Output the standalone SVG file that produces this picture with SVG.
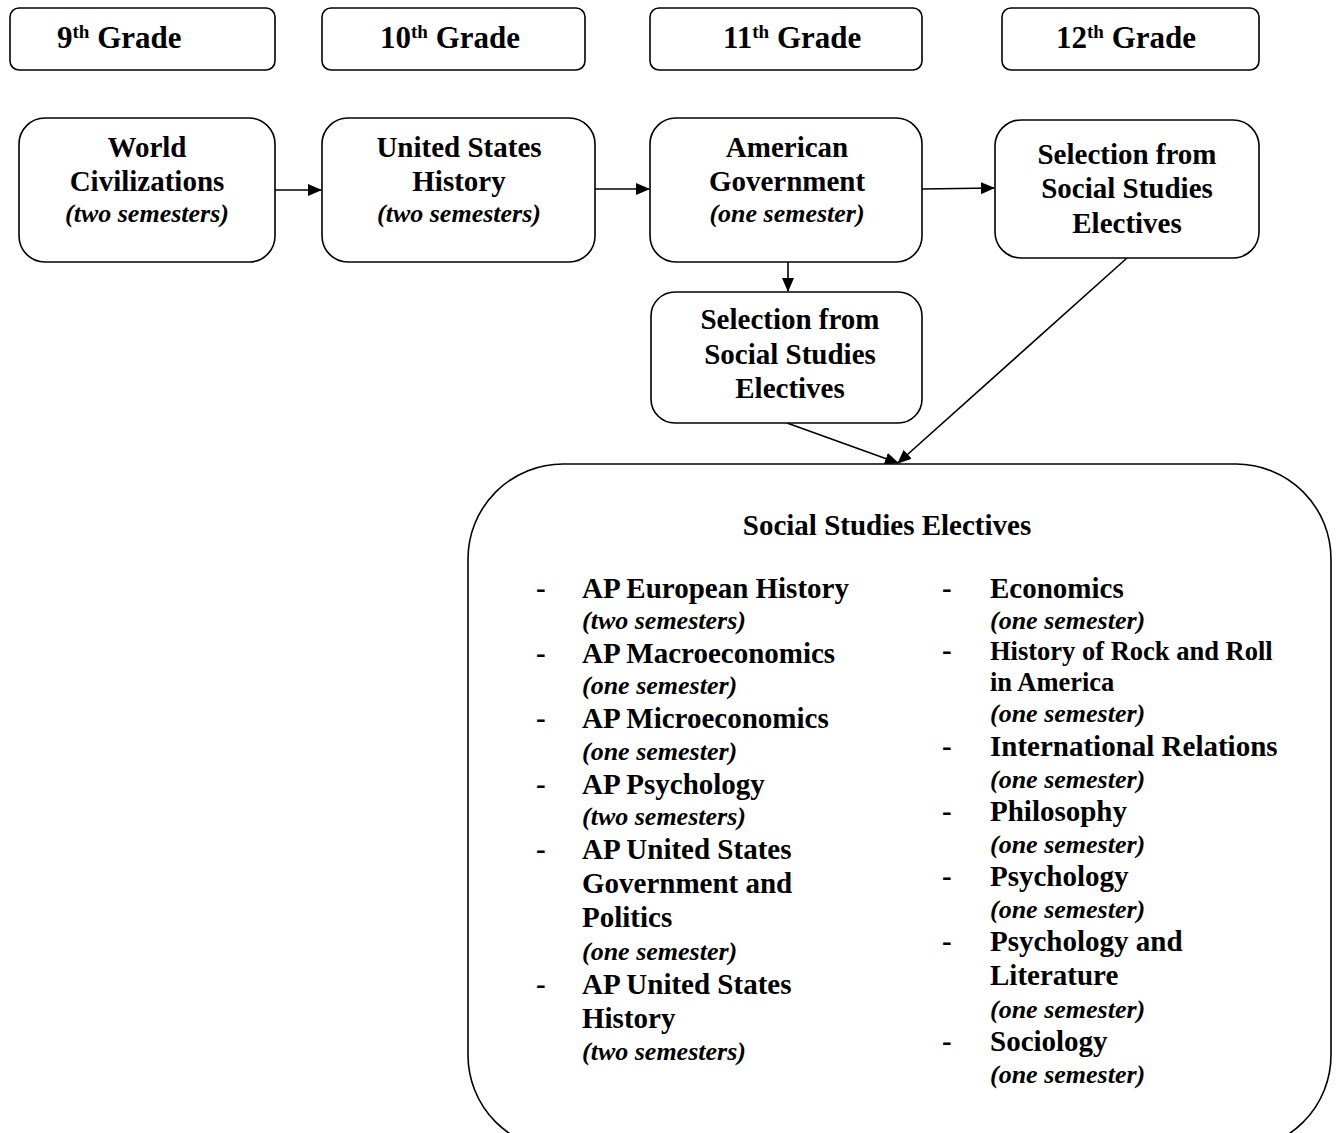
<svg xmlns="http://www.w3.org/2000/svg" width="1337" height="1133" viewBox="0 0 1337 1133">
<style>
.box{fill:#fff;stroke:#000;stroke-width:1.6}
.b{font-family:"Liberation Serif","Times New Roman",serif;font-weight:bold;font-size:29px;fill:#000}
.g{font-family:"Liberation Serif","Times New Roman",serif;font-weight:bold;font-size:31px;fill:#000}
.sup{font-size:19px}
.i{font-family:"Liberation Serif","Times New Roman",serif;font-weight:bold;font-style:italic;font-size:26px;fill:#000}
.c{text-anchor:middle}
.e{stroke:#000;stroke-width:1.6;fill:none}
</style>
<defs>
<marker id="ah" markerWidth="14" markerHeight="12" refX="13" refY="6" orient="auto" markerUnits="userSpaceOnUse">
<path d="M0,0 L14,6 L0,12 Z" fill="#000"/>
</marker>
</defs>
<rect width="1337" height="1133" fill="#fff"/>
<g id="edges">
<line class="e" x1="275" y1="190" x2="321" y2="190" marker-end="url(#ah)"/>
<line class="e" x1="595" y1="189" x2="649" y2="189" marker-end="url(#ah)"/>
<line class="e" x1="922" y1="189" x2="994" y2="188" marker-end="url(#ah)"/>
<line class="e" x1="788" y1="262" x2="788" y2="291" marker-end="url(#ah)"/>
<line class="e" x1="787" y1="423" x2="898" y2="463" marker-end="url(#ah)"/>
<line class="e" x1="1127" y1="258" x2="898" y2="463" marker-end="url(#ah)"/>
</g>
<g id="grade9"><rect class="box" x="10" y="8" width="265" height="62" rx="9"/><text class="g" x="57" y="48">9<tspan class="sup" dy="-10">th</tspan><tspan dy="10"> Grade</tspan></text></g>
<g id="grade10"><rect class="box" x="322" y="8" width="263" height="62" rx="9"/><text class="g" x="380" y="48">10<tspan class="sup" dy="-10">th</tspan><tspan dy="10"> Grade</tspan></text></g>
<g id="grade11"><rect class="box" x="650" y="8" width="272" height="62" rx="9"/><text class="g" x="723" y="48">11<tspan class="sup" dy="-10">th</tspan><tspan dy="10"> Grade</tspan></text></g>
<g id="grade12"><rect class="box" x="1002" y="8" width="257" height="62" rx="9"/><text class="g" x="1056" y="48">12<tspan class="sup" dy="-10">th</tspan><tspan dy="10"> Grade</tspan></text></g>
<g id="worldciv"><rect class="box" x="19" y="118" width="256" height="144" rx="26"/>
<text class="b c" x="147" y="157">World</text><text class="b c" x="147" y="191">Civilizations</text><text class="i c" x="147" y="222">(two semesters)</text></g>
<g id="ushistory"><rect class="box" x="322" y="118" width="273" height="144" rx="26"/>
<text class="b c" x="459" y="157">United States</text><text class="b c" x="459" y="191">History</text><text class="i c" x="459" y="222">(two semesters)</text></g>
<g id="amgov"><rect class="box" x="650" y="118" width="272" height="144" rx="26"/>
<text class="b c" x="787" y="157">American</text><text class="b c" x="787" y="191">Government</text><text class="i c" x="787" y="222">(one semester)</text></g>
<g id="sel12"><rect class="box" x="995" y="120" width="264" height="138" rx="26"/>
<text class="b c" x="1127" y="164">Selection from</text><text class="b c" x="1127" y="198">Social Studies</text><text class="b c" x="1127" y="233">Electives</text></g>
<g id="sel11"><rect class="box" x="651" y="292" width="271" height="131" rx="24"/>
<text class="b c" x="790" y="329">Selection from</text><text class="b c" x="790" y="364">Social Studies</text><text class="b c" x="790" y="398">Electives</text></g>
<g id="electives"><rect class="box" x="468" y="464" width="863" height="686" rx="95"/>
<text class="b c" x="887" y="535">Social Studies Electives</text>
<g class="b">
<text x="536" y="598">-</text><text x="582" y="598">AP European History</text>
<text x="536" y="663">-</text><text x="582" y="663">AP Macroeconomics</text>
<text x="536" y="728">-</text><text x="582" y="728">AP Microeconomics</text>
<text x="536" y="794">-</text><text x="582" y="794">AP Psychology</text>
<text x="536" y="859">-</text><text x="582" y="859">AP United States</text>
<text x="582" y="893">Government and</text>
<text x="582" y="927">Politics</text>
<text x="536" y="994">-</text><text x="582" y="994">AP United States</text>
<text x="582" y="1028">History</text>
<text x="942" y="598">-</text><text x="990" y="598">Economics</text>
<text x="942" y="660">-</text><text x="990" y="660" style="font-size:26.5px">History of Rock and Roll</text>
<text x="990" y="691" style="font-size:26.5px">in America</text>
<text x="942" y="756">-</text><text x="990" y="756">International Relations</text>
<text x="942" y="821">-</text><text x="990" y="821">Philosophy</text>
<text x="942" y="886">-</text><text x="990" y="886">Psychology</text>
<text x="942" y="951">-</text><text x="990" y="951">Psychology and</text>
<text x="990" y="985">Literature</text>
<text x="942" y="1051">-</text><text x="990" y="1051">Sociology</text>
</g>
<g class="i">
<text x="582" y="629">(two semesters)</text>
<text x="582" y="694">(one semester)</text>
<text x="582" y="760">(one semester)</text>
<text x="582" y="825">(two semesters)</text>
<text x="582" y="960">(one semester)</text>
<text x="582" y="1060">(two semesters)</text>
<text x="990" y="629">(one semester)</text>
<text x="990" y="722">(one semester)</text>
<text x="990" y="788">(one semester)</text>
<text x="990" y="853">(one semester)</text>
<text x="990" y="918">(one semester)</text>
<text x="990" y="1018">(one semester)</text>
<text x="990" y="1083">(one semester)</text>
</g>
</g>
</svg>
